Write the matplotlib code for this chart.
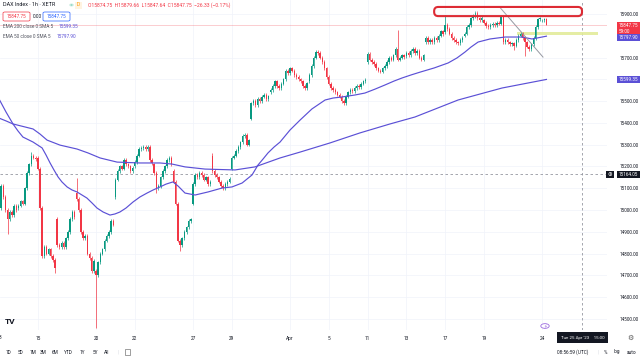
import matplotlib
matplotlib.use("Agg")
import matplotlib.pyplot as plt
from matplotlib.patches import FancyBboxPatch, Rectangle, Circle
import numpy as np

plt.rcParams['font.family'] = ['Roboto', 'DejaVu Sans']

# ---------------- data ----------------
BARS_PER_DAY = 9
day_names = ["3", "14", "15", "16", "17", "20", "21", "22", "23", "24", "27", "28", "29", "30", "31",
             "Apr", "4", "5", "6", "11", "12", "13", "14", "17", "18", "19", "20", "21", "24"]
shown_days = [0, 2, 5, 7, 10, 12, 15, 17, 19, 21, 23, 25, 28]

day_open = [15430, 15010, 15240, 14960, 15080, 14720, 15060, 15200, 15210, 15180, 15030, 15250, 15190,
            15420, 15540, 15630, 15590, 15610, 15520, 15680, 15660, 15705, 15770, 15815, 15800, 15870,
            15885, 15810, 15870]

day_close = [
    [15010, 15110, 15060, 15000, 14960, 14990, 14975, 15020, 15000],
    [15020, 15040, 15030, 15100, 15170, 15210, 15250, 15240, 15232],
    [15190, 15010, 14790, 14830, 14800, 14820, 14790, 14770, 14735],
    [14840, 14830, 14850, 14830, 14870, 14900, 14960, 14990, 14967],
    [15050, 15000, 14900, 14870, 14880, 14800, 14780, 14720, 14768],
    [14700, 14760, 14800, 14820, 14860, 14880, 14900, 14950, 14933],
    [15140, 15180, 15200, 15190, 15230, 15210, 15200, 15180, 15195],
    [15220, 15250, 15280, 15285, 15290, 15280, 15290, 15230, 15216],
    [15170, 15100, 15110, 15150, 15180, 15200, 15230, 15240, 15210],
    [15130, 15030, 14860, 14840, 14870, 14900, 14920, 14950, 14957],
    [15120, 15160, 15150, 15170, 15160, 15140, 15150, 15120, 15128],
    [15180, 15160, 15150, 15130, 15110, 15100, 15120, 15130, 15142],
    [15240, 15250, 15270, 15290, 15310, 15340, 15345, 15300, 15320],
    [15490, 15500, 15480, 15510, 15500, 15520, 15530, 15510, 15522],
    [15550, 15570, 15590, 15570, 15560, 15580, 15600, 15640, 15629],
    [15650, 15640, 15620, 15610, 15600, 15590, 15570, 15560, 15581],
    [15620, 15660, 15700, 15725, 15720, 15700, 15680, 15650, 15610],
    [15580, 15560, 15550, 15540, 15530, 15520, 15500, 15490, 15520],
    [15540, 15550, 15545, 15560, 15570, 15565, 15580, 15590, 15597],
    [15715, 15690, 15680, 15670, 15650, 15640, 15635, 15650, 15660],
    [15680, 15700, 15690, 15710, 15740, 15690, 15700, 15710, 15703],
    [15720, 15710, 15730, 15740, 15720, 15730, 15700, 15690, 15710],
    [15790, 15770, 15780, 15770, 15790, 15780, 15800, 15820, 15808],
    [15850, 15830, 15810, 15790, 15780, 15770, 15765, 15780, 15790],
    [15810, 15840, 15850, 15880, 15890, 15905, 15880, 15870, 15882],
    [15860, 15845, 15840, 15850, 15855, 15850, 15860, 15855, 15885],
    [15770, 15780, 15770, 15760, 15765, 15755, 15780, 15800, 15810],
    [15790, 15770, 15750, 15740, 15760, 15790, 15840, 15875, 15880],
    [15870, 15874.75, 15847.75],
]

# notable wick extremes (bar index -> price)
wick_high = {0: 15440, 15: 15265, 36: 15145, 99: 15260, 185: 15825, 207: 15895, 221: 15915, 254: 15879.66}
wick_low = {4: 14890, 26: 14710, 45: 14458, 73: 15080, 84: 14810, 239: 15735, 244: 15705, 254: 15847.64}

ema50_idx = [0, 3.25, 6.5, 8.8, 11.1, 15.8, 20.0, 21.8, 23.7, 25.5, 27.4, 29.2, 31.6, 33.9, 36.2, 38.5,
             40.8, 43.2, 45.5, 48.3, 51.5, 53.8, 56.1, 58.9, 62.2, 65.4, 68.7, 71.5, 74.7, 77.5, 80.7,
             83.1, 86.3, 91.0, 97.0, 103.5, 108.1, 112.8, 117.4, 118.8, 120.2, 122.5, 124.8, 127.6,
             130.4, 135.0, 139.7, 145.2, 151.3, 155.0, 159.2, 165.2, 169.8, 174.5, 179.1, 183.3, 187.0,
             191.2, 195.4, 201.9, 208.4, 212.5, 216.2, 219.0, 222.3, 227.8, 234.8, 242.7, 247.3, 254.0]
ema50_val = [15510, 15450, 15395, 15363, 15335, 15312, 15285, 15253, 15216, 15184, 15152, 15129, 15106,
             15092, 15083, 15069, 15055, 15032, 15009, 14991, 14977, 14982, 14991, 15009, 15037, 15060,
             15078, 15092, 15106, 15119, 15129, 15110, 15078, 15069, 15083, 15101, 15106, 15124, 15161,
             15184, 15207, 15234, 15262, 15289, 15312, 15367, 15413, 15464, 15505, 15514, 15519, 15528,
             15537, 15555, 15574, 15592, 15606, 15620, 15633, 15652, 15675, 15698, 15725, 15748, 15771,
             15785, 15794, 15794, 15785, 15797.90]
ema200_idx = [0, 3.25, 6.5, 15.8, 19.0, 22.3, 28.3, 36.2, 41.3, 46.9, 54.8, 65.4, 74.7, 80.3, 86.3,
              95.6, 109.5, 118.8, 130.4, 139.7, 153.6, 167.5, 181.4, 193.0, 213.0, 233.4, 254.0]
ema200_val = [15422, 15409, 15395, 15372, 15349, 15321, 15298, 15280, 15262, 15239, 15220, 15216, 15216,
              15211, 15198, 15188, 15184, 15198, 15239, 15266, 15308, 15354, 15395, 15427, 15505, 15560,
              15599.35]

last_price = 15847.75
ema50_last = 15797.90
ema200_last = 15599.35
cross_price = 15164.05
cross_bar = 270.5
price_ticks = [14500, 14600, 14700, 14800, 14900, 15000, 15100, 15200, 15300, 15400, 15500, 15600, 15700, 15900]

# ---------------- style ----------------
UP, DOWN = '#089981', '#f23645'
EMA_C = '#5b50d6'
TXT = '#131722'
WICK = 8

W, H = 640, 358
fig = plt.figure(figsize=(W / 100, H / 100), dpi=100)
fig.patch.set_facecolor('white')
ax = fig.add_axes([0, 28 / H, 607 / W, 330 / H])

opens, closes = [], []
for op, cl in zip(day_open, day_close):
    prev = op
    for v in cl:
        opens.append(prev)
        closes.append(v)
        prev = v
opens = np.array(opens, float)
closes = np.array(closes, float)
idx = np.arange(len(closes))
highs = np.maximum(opens, closes) + WICK
lows = np.minimum(opens, closes) - WICK
for k, v in wick_high.items():
    highs[k] = v
for k, v in wick_low.items():
    lows[k] = v

cols = np.where(closes >= opens, UP, DOWN)
body = closes - opens
body = np.where(np.abs(body) < 3, np.where(body >= 0, 3, -3), body)
ax.vlines(idx, lows, highs, colors=cols, lw=0.5, zorder=3)
ax.bar(idx, body, bottom=opens, width=0.66, color=cols, linewidth=0, zorder=4)

ax.plot(ema50_idx, ema50_val, color=EMA_C, lw=0.85, zorder=5)
ax.plot(ema200_idx, ema200_val, color=EMA_C, lw=0.85, zorder=5)

ax.set_xlim(0.464, 282.1)
ax.set_ylim(14449.5, 15963.9)
for s in ax.spines.values():
    s.set_visible(False)
ax.yaxis.tick_right()
ax.set_yticks(price_ticks)
ax.set_yticklabels([f"{v:.2f}" for v in price_ticks])
ax.tick_params(axis='y', length=0, pad=9.3, labelsize=3.3, labelcolor=TXT)
xt = [d * BARS_PER_DAY for d in shown_days[1:]]
ax.set_xticks(xt)
ax.set_xticklabels([day_names[d] for d in shown_days[1:]])
ax.tick_params(axis='x', length=0, pad=4.2, labelsize=3.4, labelcolor=TXT)
ax.grid(True, color='#f0f3fa', lw=0.5)
ax.set_axisbelow(True)
ax.text(0.6, -0.0242, day_names[shown_days[0]], transform=ax.get_xaxis_transform(),
        ha='center', va='center', fontsize=3.4, color=TXT, clip_on=False)

# price line, crosshair
ax.axhline(last_price, color=DOWN, lw=0.5, alpha=0.35, zorder=2)
ax.axvline(cross_bar, color='#9598a1', lw=0.6, ls=(0, (3, 3)), zorder=2)
ax.axhline(cross_price, color='#9598a1', lw=0.6, ls=(0, (3, 3)), zorder=2)

# drawings
ax.add_patch(Rectangle((240.5, 15805), 278 - 240.5, 14, fc='#e3ec9a', ec='none', alpha=0.9, zorder=2))
ax.plot([232.5, 252.4], [15929, 15702], color='#9598a1', lw=0.7, zorder=6)
ax.add_patch(FancyBboxPatch((201.9, 15890), 270.5 - 201.9, 42,
                            boxstyle="round,pad=0,rounding_size=1.9", mutation_aspect=9.9,
                            fc=(1, 0.9, 0.9, 0.15), ec='#dd2a33', lw=1.5, zorder=7))

fig.canvas.draw()


def ypx(price):
    return H - ax.transData.transform((0, price))[1]


def ftext(x, y, s, **kw):
    kw.setdefault('fontsize', 3.4)
    kw.setdefault('color', TXT)
    kw.setdefault('va', 'center')
    return fig.text(x / W, 1 - y / H, s, **kw)


def fbox(x0, y0, x1, y1, **kw):
    r = Rectangle((x0 / W, 1 - y1 / H), (x1 - x0) / W, (y1 - y0) / H, transform=fig.transFigure, **kw)
    fig.patches.append(r)
    return r


# right-side value boxes
yl = ypx(last_price)
fbox(617, yl - 3.7, 640, yl + 8.3, fc=DOWN, ec='none')
ftext(619, yl, f"{last_price:.2f}", color='white', fontsize=3.3)
ftext(619, yl + 5.8, "59:00", color='white', fontsize=3.3)
y50 = max(ypx(ema50_last), yl + 8.3 + 3.5)
fbox(617, y50 - 3.5, 640, y50 + 3.5, fc=EMA_C, ec='none')
ftext(619, y50, f"{ema50_last:.2f}", color='white', fontsize=3.3)
y200 = ypx(ema200_last)
fbox(617, y200 - 3.5, 640, y200 + 3.5, fc=EMA_C, ec='none')
ftext(619, y200, f"{ema200_last:.2f}", color='white', fontsize=3.3)
yc = ypx(cross_price)
fbox(617, yc - 3.5, 640, yc + 3.5, fc=TXT, ec='none')
ftext(619, yc, f"{cross_price:.2f}", color='white', fontsize=3.3)
fbox(606, yc - 3.5, 614, yc + 3.5, fc=TXT, ec='none')
ftext(610, yc, "⊕", color='white', fontsize=4, ha='center', family='DejaVu Sans')

# time crosshair label
fbox(557, 332, 608, 343, fc=TXT, ec='none')
ftext(582.5, 337.5, "Tue 25 Apr '23    15:00", color='white', fontsize=3.2, ha='center')
ftext(630, 337.5, "⚙", color='#555', fontsize=5, ha='center', family='DejaVu Sans')
fig.patches.append(Circle((545 / W, 1 - 326 / H), 4.2 / W, transform=fig.transFigure, fc='white',
                          ec='#9c6ade', lw=0.6))
ftext(545, 326, "⚡", color='#9c6ade', fontsize=3.6, ha='center', family='DejaVu Sans')

# logo
ftext(10, 322, "TV", fontsize=6, fontweight='bold', ha='center', color=TXT)

# header
ftext(3, 5, "DAX Index · 1h · XETR", fontsize=3.9)
fig.patches.append(Circle((71.5 / W, 1 - 5 / H), 1.6 / W, transform=fig.transFigure, fc='#22ab94', ec='#c8ecdf', lw=0.8))
fbox(75, 1.5, 82, 8.5, fc='#fff3e0', ec='none')
ftext(78.5, 5, "D", fontsize=3.6, color='#ff9800', ha='center')
ftext(88, 5, "O15874.75  H15879.66  L15847.64  C15847.75  −26.33 (−0.17%)", fontsize=3.6, color=DOWN)

b1 = FancyBboxPatch((3 / W, 1 - 21 / H), 27 / W, 9 / H, boxstyle="round,pad=0,rounding_size=0.003",
                    transform=fig.transFigure, fc='white', ec=DOWN, lw=0.5)
fig.patches.append(b1)
ftext(16.5, 16.5, f"{last_price:.2f}", fontsize=3.4, color=DOWN, ha='center')
ftext(37, 16.5, "0.00", fontsize=3.4, color=TXT, ha='center')
b2 = FancyBboxPatch((43 / W, 1 - 21 / H), 27 / W, 9 / H, boxstyle="round,pad=0,rounding_size=0.003",
                    transform=fig.transFigure, fc='white', ec='#2962ff', lw=0.5)
fig.patches.append(b2)
ftext(56.5, 16.5, f"{last_price:.2f}", fontsize=3.4, color='#2962ff', ha='center')

ftext(3, 27, "EMA 200 close 0 SMA 5", fontsize=3.4, color='#50535e')
ftext(59, 27, f"{ema200_last:.2f}", fontsize=3.4, color=EMA_C)
ftext(3, 36, "EMA 50 close 0 SMA 5", fontsize=3.4, color='#50535e')
ftext(57, 36, f"{ema50_last:.2f}", fontsize=3.4, color=EMA_C)

# bottom toolbar
for lab, x in zip(["1D", "5D", "1M", "3M", "6M", "YTD", "1Y", "5Y", "All"],
                  [8, 20, 33, 43, 55, 68, 82, 95, 107]):
    ftext(x, 352, lab, fontsize=3.4, ha='center')
ftext(118, 352, "|", fontsize=3.6, color='#d1d4dc', ha='center')
fbox(124.5, 349, 129.5, 354.5, fc='none', ec='#555', lw=0.4)
ftext(573, 352, "08:56:59 (UTC)", fontsize=3.4, ha='center')
ftext(598, 352, "|", fontsize=3.6, color='#d1d4dc', ha='center')
ftext(605, 352, "%", fontsize=3.4, ha='center')
ftext(617, 352, "log", fontsize=3.4, ha='center')
ftext(632, 352, "auto", fontsize=3.4, ha='center')

fig.savefig("out.png", dpi=100, facecolor='white')
